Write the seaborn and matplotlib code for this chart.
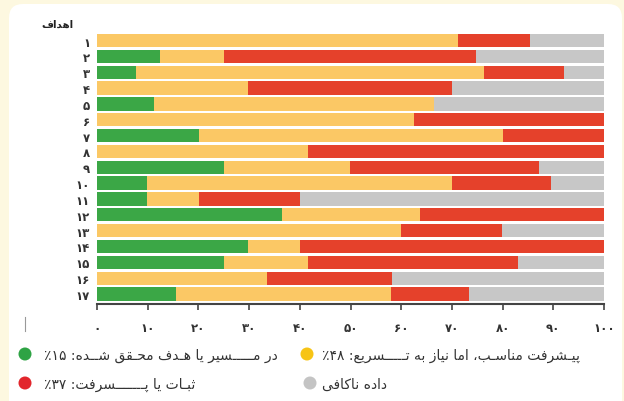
import re
import numpy as np
import pandas as pd
import seaborn as sns
import matplotlib.pyplot as plt
from matplotlib.patches import FancyBboxPatch, Circle

# goals 1..17, share of targets (%) per status
goals = ['۱', '۲', '۳', '۴', '۵', '۶', '۷', '۸', '۹', '۱۰', '۱۱', '۱۲', '۱۳', '۱۴', '۱۵', '۱۶', '۱۷']
on_track = [0, 12.4, 7.6, 0, 11.2, 0, 20.1, 0, 25, 9.9, 9.9, 36.4, 0, 29.8, 25, 0, 15.5]
needs_accel = [71.3, 12.6, 68.8, 29.8, 55.3, 62.5, 59.9, 41.7, 24.9, 60.1, 10.3, 27.3, 59.9, 10.2, 16.7, 33.5, 42.4]
stagnant = [14.1, 49.8, 15.7, 40.2, 0, 37.5, 20.0, 58.3, 37.3, 19.5, 19.8, 36.3, 19.9, 60.0, 41.4, 24.6, 15.5]
no_data = [14.6, 25.2, 7.9, 30.0, 33.5, 0, 0, 0, 12.8, 10.5, 60.0, 0, 20.2, 0, 16.9, 41.9, 26.6]

xticks = [0, 10, 20, 30, 40, 50, 60, 70, 80, 90, 100]
xtick_labels = ['۰', '۱۰', '۲۰', '۳۰', '۴۰', '۵۰', '۶۰', '۷۰', '۸۰', '۹۰', '۱۰۰']

title = 'اهداف'
legend_labels = ['در مـــــسیر یا هـدف محـقق شــده: ۱۵٪',
                 'پیـشرفت مناسـب، اما نیاز به تـــــسریع: ۴۸٪',
                 'ثبـات یا پـــــــسرفت: ۳۷٪',
                 'داده ناکافی']

colors = {'green': '#3ba746', 'yellow': '#fbc865', 'red': '#e5412b', 'gray': '#c7c7c7'}
dot_colors = ['#2ea344', '#f7c415', '#e2262c', '#c4c4c4']

# simple persian shaping (matplotlib has no complex text layout)
FORMS = {
    'ا': 'ﺍﺎ', 'آ': 'ﺁﺂ', 'ب': 'ﺏﺐﺑﺒ', 'پ': 'ﭖﭗﭘﭙ', 'ت': 'ﺕﺖﺗﺘ', 'ث': 'ﺙﺚﺛﺜ',
    'ج': 'ﺝﺞﺟﺠ', 'ح': 'ﺡﺢﺣﺤ', 'خ': 'ﺥﺦﺧﺨ', 'د': 'ﺩﺪ', 'ذ': 'ﺫﺬ', 'ر': 'ﺭﺮ',
    'ز': 'ﺯﺰ', 'س': 'ﺱﺲﺳﺴ', 'ش': 'ﺵﺶﺷﺸ', 'ع': 'ﻉﻊﻋﻌ', 'ف': 'ﻑﻒﻓﻔ',
    'ق': 'ﻕﻖﻗﻘ', 'ک': 'ﮎﮏﮐﮑ', 'گ': 'ﮒﮓﮔﮕ', 'ل': 'ﻝﻞﻟﻠ', 'م': 'ﻡﻢﻣﻤ',
    'ن': 'ﻥﻦﻧﻨ', 'ه': 'ﻩﻪﻫﻬ', 'و': 'ﻭﻮ', 'ی': 'ﯼﯽﯾﯿ', 'ـ': 'ــــ',
}


def fa(s):
    out = []
    for i, c in enumerate(s):
        f = FORMS.get(c)
        if f is None:
            out.append(c)
            continue
        prev = s[i - 1] if i > 0 else ''
        nxt = s[i + 1] if i < len(s) - 1 else ''
        jp = prev in FORMS and len(FORMS[prev]) == 4
        jn = len(f) == 4 and nxt in FORMS
        if jp and jn:
            out.append(f[3])
        elif jp:
            out.append(f[1])
        elif jn:
            out.append(f[2])
        else:
            out.append(f[0])
    parts = re.findall(r'[۰-۹0-9]+|[^۰-۹0-9]', ''.join(out))
    return ''.join(reversed(parts))


df = pd.DataFrame({'goal': goals, 'green': on_track, 'yellow': needs_accel,
                   'red': stagnant, 'gray': no_data})
df['c_yellow'] = df['green'] + df['yellow']
df['c_red'] = df['c_yellow'] + df['red']
df['c_gray'] = df['c_red'] + df['gray']

plt.rcParams['font.family'] = ['DejaVu Sans']
fig = plt.figure(figsize=(6.24, 4.02), dpi=100, facecolor='#fdf8e0')

# background panel + legend in pixel coords
bg = fig.add_axes([0, 0, 1, 1])
bg.set_xlim(0, 624)
bg.set_ylim(402, 0)
bg.axis('off')
bg.add_patch(FancyBboxPatch((9, 5), 613, 430, boxstyle='round,pad=0,rounding_size=14',
                            facecolor='white', edgecolor='none'))
bg.text(57, 25, fa(title), ha='center', va='center', fontsize=7.5, fontweight='bold', color='#222')
bg.plot([25, 25], [318, 332], color='#999999', lw=0.8)

dot_xy = [(25, 355), (307, 355), (25, 384), (310, 384)]
text_x = [44, 322, 44, 322]
for (cx, cy), tx, lab, col in zip(dot_xy, text_x, legend_labels, dot_colors):
    bg.add_patch(Circle((cx, cy), 6.5, facecolor=col, edgecolor='none'))
    bg.text(tx, cy + 1, fa(lab), ha='left', va='center', fontsize=10, color='#333')

ax = fig.add_axes([97 / 624, 1 - 305 / 402, 507 / 624, (305 - 33.6) / 402])
ax.set_facecolor('none')

stack = [('c_gray', 'gray'), ('c_red', 'red'), ('c_yellow', 'yellow'), ('green', 'green')]
for col, c in stack:
    sns.barplot(data=df, x=col, y='goal', order=goals, orient='h', color=colors[c],
                width=0.84, saturation=1, linewidth=0, ax=ax)

ax.set_xlim(0, 100)
ax.set_ylim(16.63, -0.5)
ax.set_xlabel('')
ax.set_ylabel('')
ax.set_xticks(xticks)
ax.set_xticklabels(xtick_labels, fontsize=8.5, fontweight='bold', color='#333')
ax.tick_params(axis='x', direction='out', length=4, width=1.2, color='#444', pad=8)
ax.tick_params(axis='y', length=0, pad=5, labelsize=8.5, labelcolor='#333')
for t in ax.get_yticklabels():
    t.set_fontweight('bold')
for s in ['top', 'right', 'left']:
    ax.spines[s].set_visible(False)
ax.spines['bottom'].set_color('#444')
ax.spines['bottom'].set_linewidth(1.5)

fig.savefig('out.png', dpi=100, facecolor=fig.get_facecolor())
